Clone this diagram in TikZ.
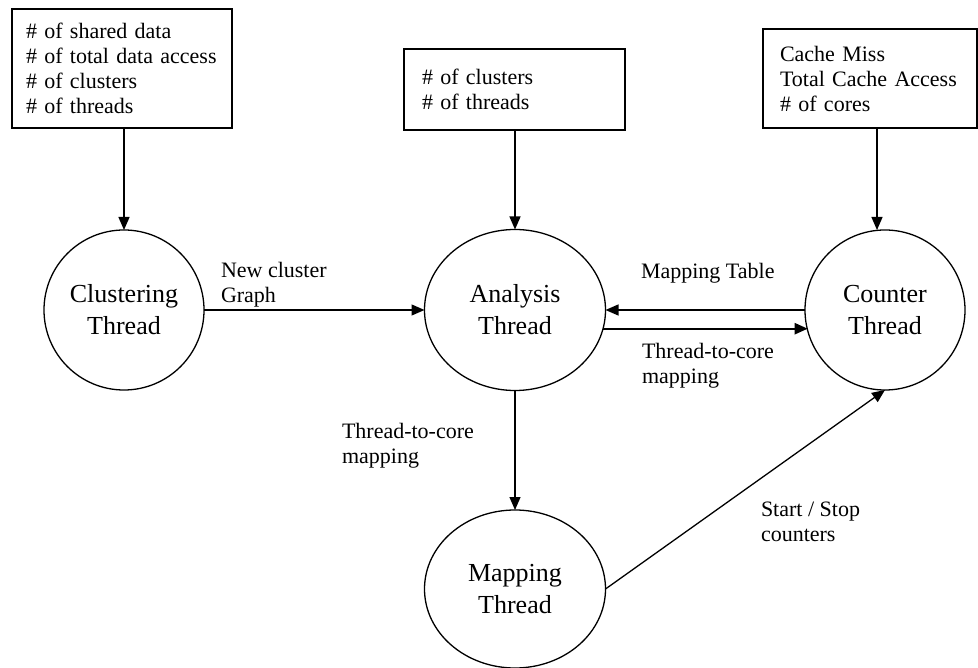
\documentclass[tikz,border=0pt]{standalone}
\usepackage{fontspec}
\setmainfont{Liberation Serif}
\usetikzlibrary{shapes.geometric,arrows.meta,calc}

\begin{document}
\begin{tikzpicture}[x=1pt,y=-1pt,
  every node/.style={inner sep=0pt, outer sep=0pt},
  infobox/.style={draw, line width=1.3pt, text width=#1, align=left,
    font=\fontsize{22}{25}\selectfont,
    execute at begin node={\hyphenpenalty=10000 }},
  thread/.style={draw, ellipse, line width=1.3pt, align=center,
    font=\fontsize{26}{32}\selectfont},
  lbl/.style={anchor=north west, align=left, font=\fontsize{22}{25}\selectfont},
  flow/.style={line width=1.3pt, -{Triangle[length=13pt,width=11pt]}},
  flowbold/.style={flow, line width=2.2pt},
]
\useasboundingbox (0,0) rectangle (978,668);

% input parameter boxes
\node[infobox=192pt, inner xsep=14pt, minimum height=119pt] (in1) at (122,68.5)
  {\# of shared data\\\# of total data access\\\# of clusters\\\# of threads};
\node[infobox=185pt, inner xsep=18pt, minimum height=81pt] (in2) at (514.5,89.5)
  {\# of clusters\\\# of threads};
\node[infobox=180pt, inner xsep=17pt, minimum height=99pt] (in3) at (870,78.5)
  {Cache Miss\\Total Cache Access\\\# of cores};

% threads
\node[thread, minimum width=160pt, minimum height=160pt] (clus) at (124,310)
  {Clustering\\Thread};
\node[thread, minimum width=181pt, minimum height=161pt] (ana) at (515,310)
  {Analysis\\Thread};
\node[thread, minimum width=160pt, minimum height=160pt] (cnt) at (885,310)
  {Counter\\Thread};
\node[thread, minimum width=181pt, minimum height=158pt] (map) at (515,589)
  {Mapping\\Thread};

% inputs into the threads
\draw[flow] (in1.south -| clus.north) -- (clus.north);
\draw[flow] (in2.south -| ana.north) -- (ana.north);
\coordinate (k3) at ($(in3.south)+(7,0)$);
\draw[flow] (k3) -- (k3 |- cnt.north);

% data flow between threads
\draw[flow] (clus.east) -- (ana.west);
\draw[flow] (cnt.west) -- (ana.east);
\draw[flowbold] (ana.-12.85) -- (ana.-12.85 -| cnt.-165.5);
\draw[flow] (ana.south) -- (map.north);
\draw[flow] (map.east) -- (cnt.south);

% connector labels
\node[lbl] (lncg) at (221,262) {New cluster\\Graph};
\node[lbl] (lmt) at (641,263) {Mapping Table};
\node[lbl] (lt2c) at (642,343) {Thread-to-core\\mapping};
\node[lbl] (lt2m) at (342,423) {Thread-to-core\\mapping};
\node[lbl] (lss) at (761,502) {Start / Stop\\counters};
\end{tikzpicture}
\end{document}
